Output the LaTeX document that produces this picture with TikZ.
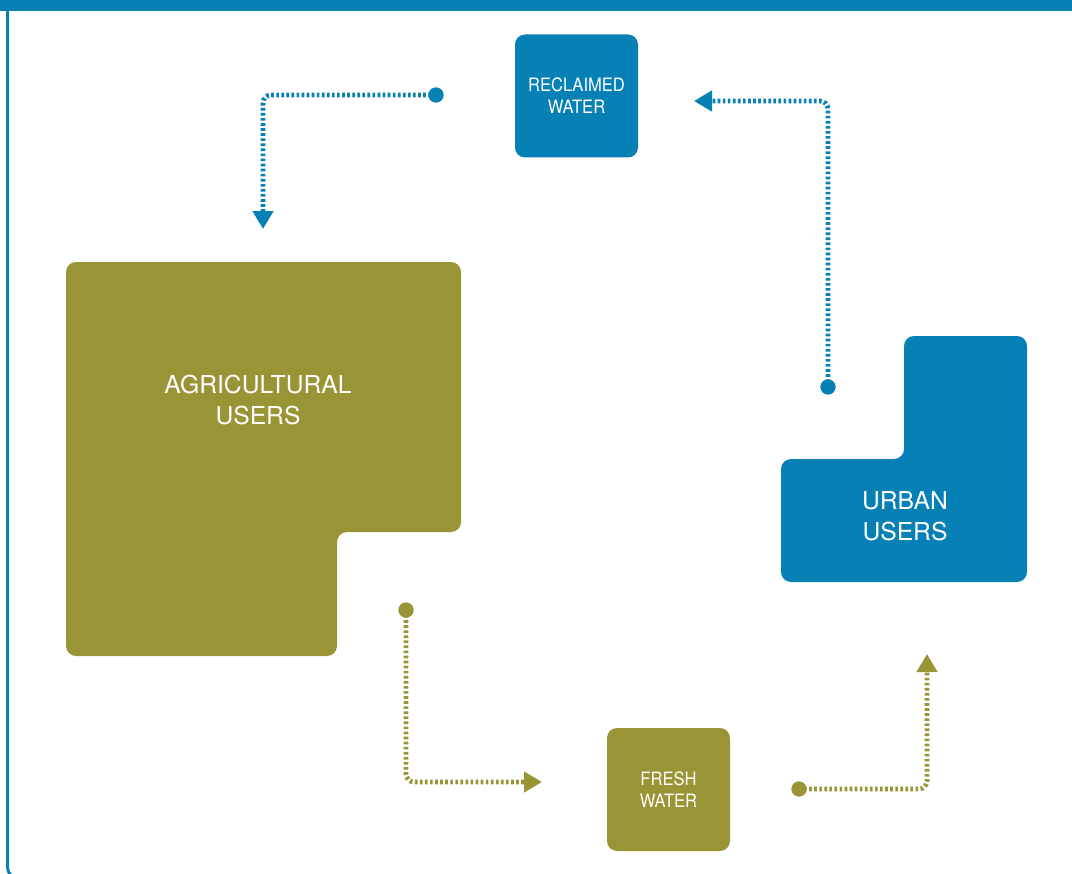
\documentclass[tikz,border=0pt]{standalone}
\usepackage{fontspec}
\setmainfont{TeX Gyre Heros}
\newfontfamily\narrowfont[FakeStretch=0.9]{TeX Gyre Heros}
\usetikzlibrary{arrows.meta,positioning}
\definecolor{wblue}{HTML}{0780B6}
\definecolor{wolive}{HTML}{999537}
\tikzset{
    boxnode/.style={rounded corners=7.5pt,minimum size=92.25pt,inner sep=0pt,text=white,align=center,font=\narrowfont\fontsize{13.8}{16.5}\selectfont},
    usershape/.style={rounded corners=7.5pt},
    userlabel/.style={text=white,align=center,font=\fontsize{18.5}{23.5}\selectfont},
    dotnode/.style={circle,inner sep=0pt,minimum size=11.5pt},
    flowline/.style={line width=3.6pt,dash pattern=on 2pt off 1.8pt,rounded corners=6pt,-{Triangle[length=13.5pt,width=15pt]}}
}

\begin{document}
\begin{tikzpicture}[x=0.75pt,y=-0.75pt]
  \useasboundingbox (0,0) rectangle (1072,874);
  % frame
  \fill[wblue] (0,0) rectangle (1072,11);
  \draw[wblue,line width=2.2pt,rounded corners=8pt] (7.5,10) -- (7.5,878) -- (1100,878);
  % water boxes
  \node[boxnode,fill=wblue] (reclaimed) at (576.5,96) {RECLAIMED\\WATER};
  \node[boxnode,fill=wolive] (fresh) at (668.5,789.5) {FRESH\\WATER};
  % users
  \fill[wolive,usershape] (66,262) -- (461,262) -- (461,532) -- (337,532) -- (337,656) -- (66,656) -- cycle;
  \node[userlabel] (agri) at (258,400) {AGRICULTURAL\\USERS};
  \fill[wblue,usershape] (904,336) -- (1027,336) -- (1027,582) -- (781,582) -- (781,459) -- (904,459) -- cycle;
  \node[userlabel] (urban) at (905,516) {URBAN\\USERS};
  % flows
  \node[dotnode,fill=wblue] (d1) at (436,95) {};
  \coordinate (e1) at (263,229);
  \draw[flowline,wblue] (d1.center) -| (e1);
  \node[dotnode,fill=wblue] (d2) at (828,387) {};
  \coordinate (e2) at (694,101);
  \draw[flowline,wblue] (d2.center) |- (e2);
  \node[dotnode,fill=wolive] (d3) at (406,610) {};
  \coordinate (e3) at (542,782);
  \draw[flowline,wolive] (d3.center) |- (e3);
  \node[dotnode,fill=wolive] (d4) at (799,789) {};
  \coordinate (e4) at (927,654);
  \draw[flowline,wolive] (d4.center) -| (e4);
\end{tikzpicture}
\end{document}
